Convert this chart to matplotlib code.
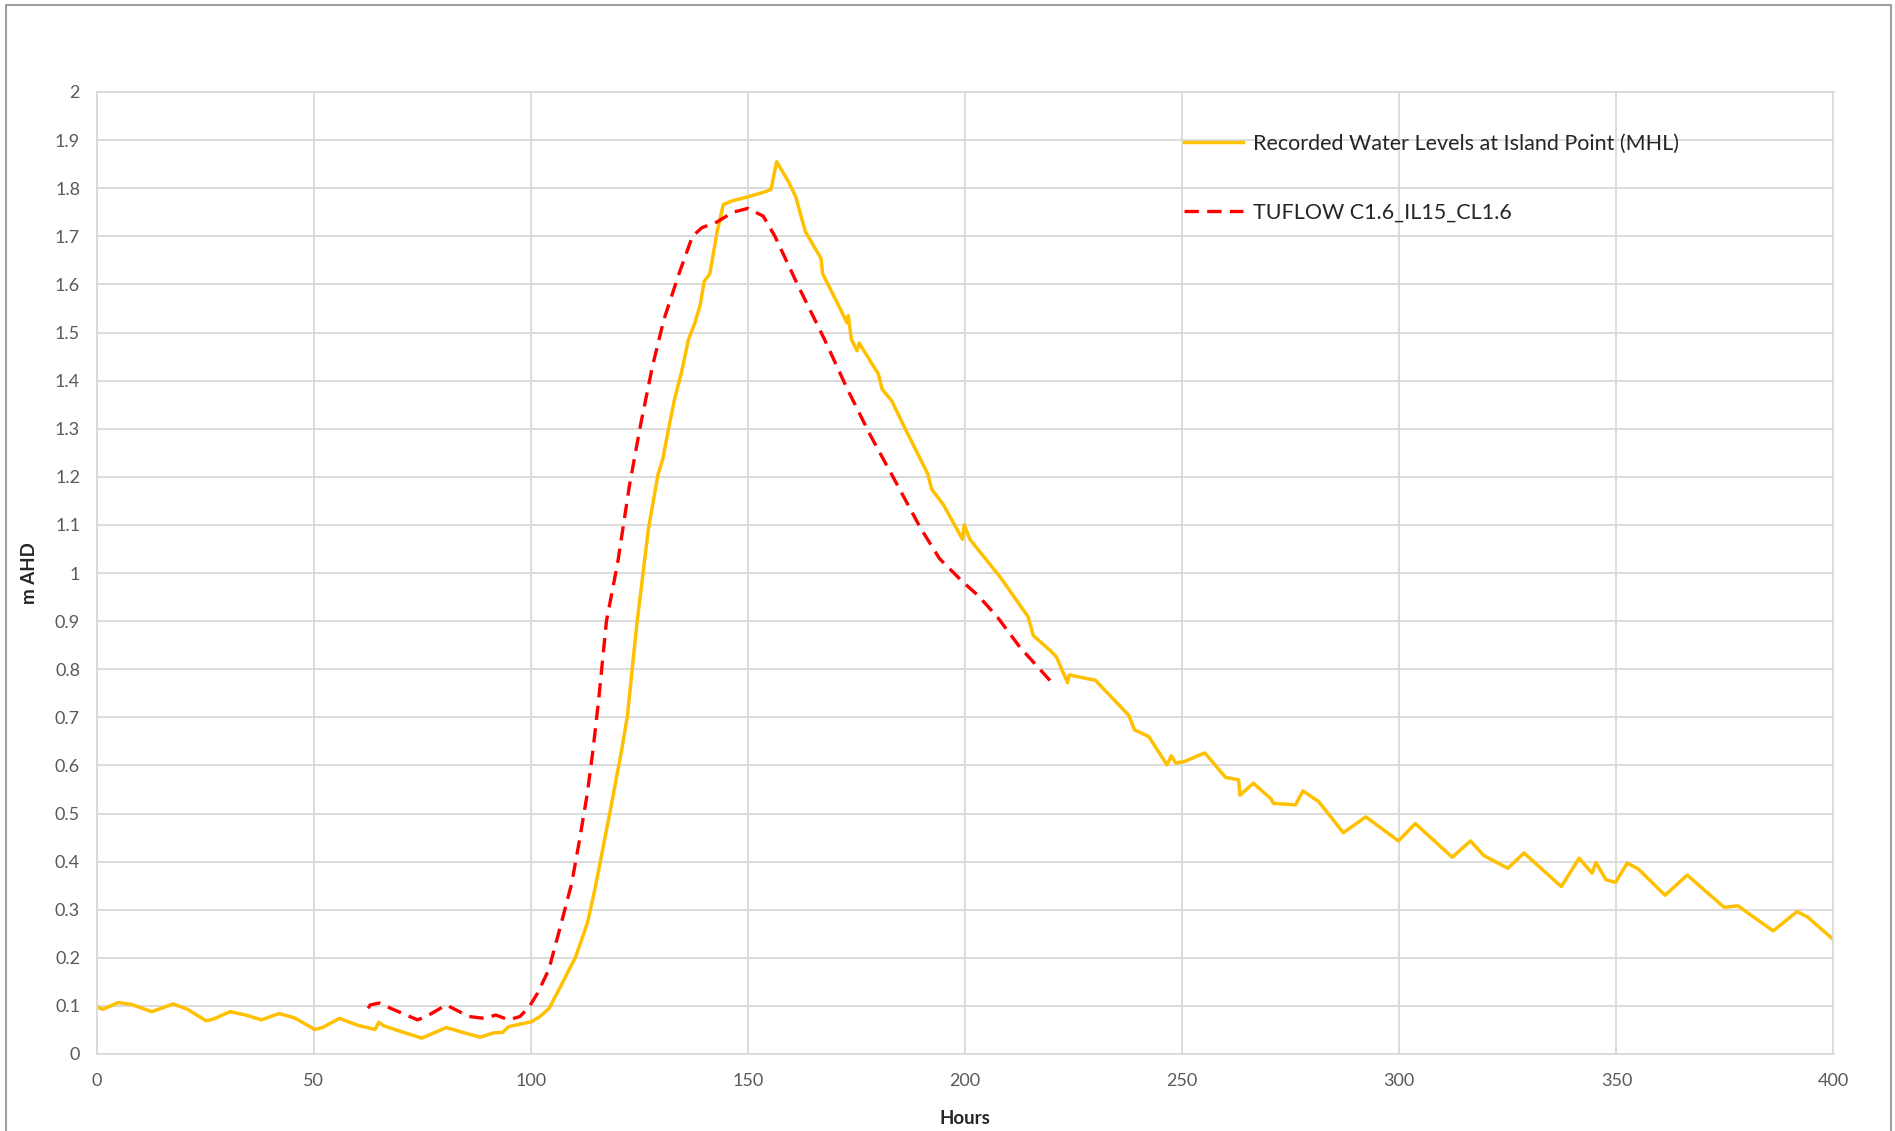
import matplotlib
matplotlib.use('Agg')
import matplotlib.pyplot as plt
from matplotlib.patches import Rectangle


# Recorded water levels at Island Point (MHL)
rec_hours = [0, 1.4, 5, 8, 12.7, 17.6, 20.9, 25.2, 27, 30.7, 34.3, 37.9, 42, 45.6,
             50.2, 52, 55.9, 60, 64.1, 65, 66, 70.3, 74.9, 80.5, 84.7, 88.3, 91.5,
             93.5, 94.9, 100.1, 102.1, 104.2, 107.2, 110.3, 113, 114.7, 116.5, 118.3,
             120.9, 122.2, 124.4, 127.1, 129.3, 130.4, 131.7, 133.2, 134.6, 136.3,
             137.7, 139, 139.9, 141.2, 142.9, 144.3, 146.5, 150, 154.4, 155.3, 156.6,
             159.3, 161, 163.2, 166.8, 167.2, 171.2, 172.8, 173.1, 173.8, 175.1, 175.6,
             180, 180.9, 183.1, 186.2, 191.4, 192.3, 195, 199.4, 199.8, 201.1, 208.2,
             214.5, 215.7, 219.7, 221, 223.6, 224, 230, 237.7, 239, 242.3, 246.5,
             247.5, 248.5, 250.5, 255.2, 260, 263, 263.3, 266.4, 270.5, 271, 276.1,
             277.8, 281.4, 287.1, 292.3, 299.8, 303.7, 312.2, 316.4, 319.4, 325,
             328.7, 337.3, 341.4, 344.4, 345.3, 347.6, 349.8, 352.5, 355, 361.2,
             366.3, 374.8, 378, 386.1, 391.6, 394, 399.7]
rec_level = [0.098, 0.093, 0.107, 0.103, 0.088, 0.104, 0.093, 0.069, 0.073, 0.088, 0.081,
             0.071, 0.084, 0.075, 0.051, 0.055, 0.074, 0.06, 0.051, 0.066, 0.059, 0.046,
             0.033, 0.055, 0.044, 0.035, 0.044, 0.045, 0.057, 0.067, 0.078, 0.095, 0.147,
             0.202, 0.272, 0.341, 0.424, 0.507, 0.632, 0.701, 0.894, 1.094, 1.206, 1.238,
             1.30, 1.366, 1.414, 1.486, 1.518, 1.558, 1.606, 1.622, 1.71, 1.766, 1.774,
             1.782, 1.794, 1.798, 1.855, 1.814, 1.782, 1.71, 1.654, 1.622, 1.55, 1.52,
             1.535, 1.486, 1.462, 1.478, 1.414, 1.382, 1.358, 1.30, 1.206, 1.174, 1.142,
             1.07, 1.10, 1.07, 0.99, 0.909, 0.87, 0.838, 0.826, 0.772, 0.788, 0.777,
             0.704, 0.674, 0.66, 0.601, 0.62, 0.605, 0.608, 0.626, 0.575, 0.57, 0.538,
             0.563, 0.53, 0.521, 0.518, 0.547, 0.525, 0.46, 0.493, 0.443, 0.479, 0.409,
             0.443, 0.413, 0.386, 0.418, 0.348, 0.407, 0.376, 0.398, 0.362, 0.357, 0.397,
             0.385, 0.33, 0.372, 0.305, 0.308, 0.256, 0.296, 0.285, 0.24]

# TUFLOW model result
mod_hours = [62.5, 63, 65.1, 67.7, 73.9, 75.9, 80.5, 85.7, 89.3, 91.9, 94.9, 97.5, 99.6,
             101.5, 104.1, 106.8, 109.4, 111.2, 113, 114.3, 115.6, 117.4, 120, 122.7,
             125.3, 128, 130.6, 134.1, 137.2, 139.4, 142.9, 146.5, 150, 153.5, 156.2,
             161.5, 167.6, 172.9, 178.2, 183.5, 189.7, 194.1, 199.4, 202.9, 207.3,
             212.6, 219.7]
mod_level = [0.095, 0.102, 0.106, 0.095, 0.071, 0.078, 0.102, 0.078, 0.074, 0.081, 0.071,
             0.078, 0.098, 0.126, 0.175, 0.265, 0.355, 0.445, 0.542, 0.632, 0.736, 0.90,
             1.022, 1.182, 1.31, 1.43, 1.526, 1.622, 1.70, 1.718, 1.73, 1.75, 1.758,
             1.742, 1.70, 1.598, 1.486, 1.382, 1.286, 1.198, 1.094, 1.03, 0.982, 0.954,
             0.91, 0.846, 0.775]

x_ticks = list(range(0, 401, 50))
y_ticks = [0, 0.1, 0.2, 0.3, 0.4, 0.5, 0.6, 0.7, 0.8, 0.9, 1, 1.1, 1.2, 1.3, 1.4,
           1.5, 1.6, 1.7, 1.8, 1.9, 2]
y_labels = ['0', '0.1', '0.2', '0.3', '0.4', '0.5', '0.6', '0.7', '0.8', '0.9', '1',
            '1.1', '1.2', '1.3', '1.4', '1.5', '1.6', '1.7', '1.8', '1.9', '2']

plt.rcParams['font.family'] = ['Lato', 'DejaVu Sans']

fig = plt.figure(figsize=(18.95, 11.31), dpi=100)
ax = fig.add_axes([96.7 / 1895, 1 - 1054 / 1131, 1736.8 / 1895, 962 / 1131])

ax.plot(rec_hours, rec_level, color='#FFC000', lw=2.5,
        label='Recorded Water Levels at Island Point (MHL)')
ax.plot(mod_hours, mod_level, color='#FF0000', lw=2.4, dashes=(4.3, 2.5),
        label='TUFLOW C1.6_IL15_CL1.6')

ax.set_xlim(0, 400)
ax.set_ylim(0, 2)
ax.set_xticks(x_ticks)
ax.set_yticks(y_ticks)
ax.set_yticklabels(y_labels)
ax.grid(True, color='#D9D9D9', lw=1.3)
ax.set_axisbelow(True)
for s in ax.spines.values():
    s.set_color('#D9D9D9')
    s.set_linewidth(1.3)
ax.tick_params(length=0, labelsize=13, labelcolor='#595959')
ax.tick_params(axis='y', pad=12)
ax.tick_params(axis='x', pad=14)

ax.set_xlabel('Hours', fontsize=13.5, fontweight='bold', color='#262626', labelpad=15)
ax.set_ylabel('m AHD', fontsize=13.5, fontweight='bold', color='#262626', labelpad=12)

leg = ax.legend(loc='upper left', bbox_to_anchor=(0.626, 0.957), frameon=False,
                fontsize=15.5, handlelength=2.75, handletextpad=0.45,
                labelspacing=2.27, borderpad=0, borderaxespad=0)
for t in leg.get_texts():
    t.set_color('#262626')

# outer chart frame
fig.patches.append(Rectangle((6 / 1895, -0.02), 1885 / 1895, 1.02 - 5 / 1131,
                             transform=fig.transFigure, fill=False,
                             edgecolor='#8C8C8C', lw=1.2))

fig.savefig('out.png', dpi=100, facecolor='white')
